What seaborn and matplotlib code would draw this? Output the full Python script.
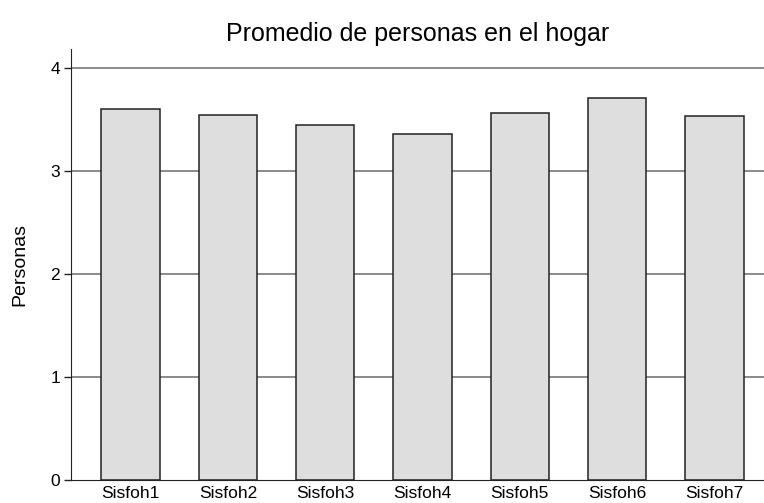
"""plot.py - Promedio de personas en el hogar (barras)"""

import matplotlib
matplotlib.use('Agg')
import matplotlib.pyplot as plt
import seaborn as sns
import pandas as pd

# datos
rondas = ['Sisfoh1', 'Sisfoh2', 'Sisfoh3', 'Sisfoh4', 'Sisfoh5', 'Sisfoh6', 'Sisfoh7']
personas = [3.60, 3.54, 3.44, 3.36, 3.56, 3.70, 3.53]
y_ticks = [0, 1, 2, 3, 4]

sns.set_style('white')
plt.rcParams['font.family'] = ['Liberation Sans', 'DejaVu Sans']
plt.rcParams.update({'text.color': 'black', 'axes.labelcolor': 'black',
                     'xtick.color': 'black', 'ytick.color': 'black'})

df = pd.DataFrame({'ronda': rondas, 'personas': personas})

fig = plt.figure(figsize=(7.64, 5.03), dpi=100)
ax = fig.add_axes([71 / 764, 23 / 503, 693 / 764, 431 / 503])

for t in y_ticks[1:]:
    ax.axhline(t, color='#6b6b6b', linewidth=1.1, zorder=0)

sns.barplot(data=df, x='ronda', y='personas', color='#dedede', saturation=1,
            edgecolor='#222222', linewidth=1.1, width=0.6, ax=ax, zorder=2)

ax.set_xlim(-0.612, 6.51)
ax.set_ylim(0, 4.18)
ax.set_yticks(y_ticks)
ax.set_xlabel('')
ax.set_ylabel('Personas', fontsize=14, labelpad=16)
ax.set_title('Promedio de personas en el hogar', fontsize=18, pad=6)

for side in ('top', 'right'):
    ax.spines[side].set_visible(False)
ax.spines['left'].set_color('#222222')
ax.spines['bottom'].set_color('#222222')
ax.tick_params(axis='y', left=True, length=5, width=1, color='#222222',
               labelsize=12.5, pad=3)
ax.tick_params(axis='x', bottom=False, labelsize=12.5, pad=1)

plt.savefig('out.png', dpi=100)
plt.close()
